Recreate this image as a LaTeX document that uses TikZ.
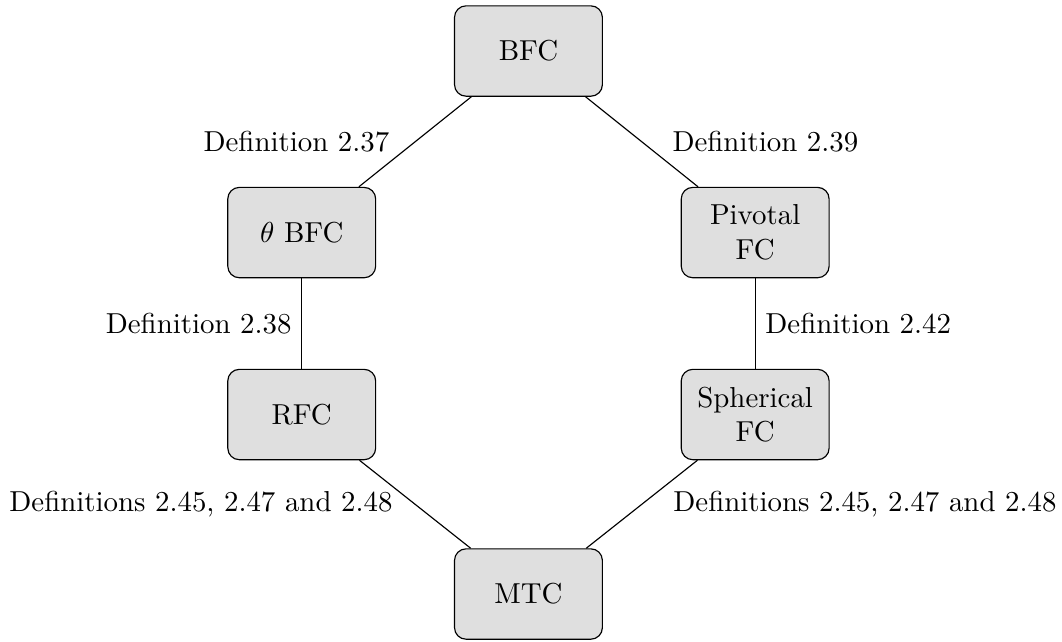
\documentclass[tikz,border=0pt]{standalone}
\usepackage{amsmath,amssymb}
\usepackage{tikz}
\tikzset{
    Cat/.style = {draw,fill=gray!25,rounded corners,align=center,
        minimum width=1.8cm,minimum height=1.1cm},
    Lbl/.style = {midway,inner sep=0.333em}
}

\begin{document}
\begin{tikzpicture}
        \useasboundingbox (-6.433,0.621) rectangle (6.495,-7.194);
        \node[Cat] (BFC) at (0,0) {BFC};
        \node[Cat] (TBFC) at (-2.76,-2.21) {$\theta$ BFC};
        \node[Cat] (PFC) at (2.76,-2.21) {Pivotal\\FC};
        \node[Cat] (RFC) at (-2.76,-4.425) {RFC};
        \node[Cat] (SFC) at (2.76,-4.425) {Spherical\\FC};
        \node[Cat] (MTC) at (0,-6.61) {MTC};
        \draw (BFC) -- node[Lbl,left=1.9mm] (D37) {Definition 2.37} (TBFC);
        \draw (BFC) -- node[Lbl,right=2.5mm] (D39) {Definition 2.39} (PFC);
        \draw (TBFC) -- node[Lbl,left] (D38) {Definition 2.38} (RFC);
        \draw (PFC) -- node[Lbl,right] (D42) {Definition 2.42} (SFC);
        \draw (RFC) -- node[Lbl,left=1.5mm] (DL) {Definitions 2.45, 2.47 and 2.48} (MTC);
        \draw (SFC) -- node[Lbl,right=2.6mm] (DR) {Definitions 2.45, 2.47 and 2.48} (MTC);
\end{tikzpicture}
\end{document}
